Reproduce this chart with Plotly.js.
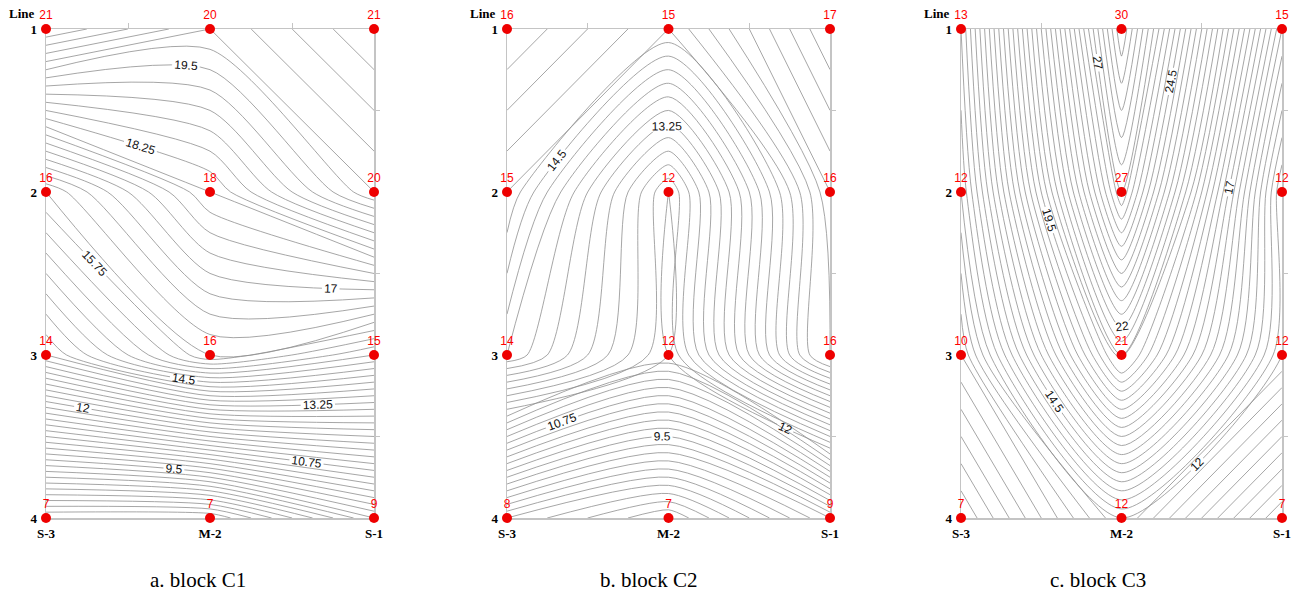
<!DOCTYPE html>
<html>
<head>
<meta charset="utf-8">
<script src="https://cdn.plot.ly/plotly-3.0.1.min.js"></script>
<style>html,body{margin:0;padding:0;background:#fff;}#chart{width:1293px;height:597px;}</style>
</head>
<body>
<div id="chart"></div>
<script>
// ---- data ----
const stations = ['S-3', 'M-2', 'S-1'];
const stationPos = [0, 1, 2];
const lineNums = [1, 2, 3, 4];
const lineLabels = ['1', '2', '3', '4'];
const blockC1 = [[21, 20, 21], [16, 18, 20], [14, 16, 15], [7, 7, 9]];
const blockC2 = [[16, 15, 17], [15, 12, 16], [14, 12, 16], [8, 7, 9]];
const blockC3 = [[13, 30, 15], [12, 27, 12], [10, 21, 12], [7, 12, 7]];
const captions = ['a. block C1', 'b. block C2', 'c. block C3'];

// contour level settings (style): [low, high, step, labelStart, labelEnd]
const levelCfg = [
  [7.25, 20.75, 0.25, 9.5, 19.5],
  [7.25, 16.75, 0.25, 9.5, 14.5],
  [7.5, 29.5, 0.5, 12, 27]
];
const EPS = 0.001; // tiny level offset so no level sits exactly on a sample value

const W = 1293, H = 597;
const xDom = [[46, 374], [507, 830], [961, 1282]];
const yTop = 29, yBot = 518;
const capX = [198, 648, 1098];
const capY = 580;

const blocks = [blockC1, blockC2, blockC3];
const traces = [];
const layout = {
  width: W, height: H, margin: {l: 0, r: 0, t: 0, b: 0},
  paper_bgcolor: '#fff', plot_bgcolor: 'rgba(0,0,0,0)',
  showlegend: false, annotations: [],
  font: {family: 'Liberation Sans, Arial, sans-serif'}
};

const lineStyle = {color: '#8f8f8f', width: 0.8, smoothing: 0.7};
const frameColor = '#c4c4c4';

blocks.forEach((z, i) => {
  const n = i + 1;
  const xa = n === 1 ? 'x' : 'x' + n;
  const ya = n === 1 ? 'y' : 'y' + n;
  const ox = 'x' + (n + 3), oy = 'y' + (n + 3);
  const [lo, hi, step, ls, le] = levelCfg[i];
  const big = step * 5;
  const base = {type: 'contour', x: stationPos, y: lineNums, z: z,
    xaxis: xa, yaxis: ya, showscale: false, hoverinfo: 'skip',
    line: lineStyle};
  for (let j = 1; j < 5; j++) {
    let s = ls + j * step;
    while (s - big >= lo - 1e-9) s -= big;
    traces.push(Object.assign({}, base, {
      contours: {coloring: 'none', start: s + EPS, end: hi + EPS, size: big, showlabels: false}
    }));
  }
  const extras = [];
  for (let v = ls - big; v >= lo - 1e-9; v -= big) extras.push(v);
  for (let v = le + big; v <= hi + 1e-9; v += big) extras.push(v);
  extras.forEach(v => traces.push(Object.assign({}, base, {
    contours: {coloring: 'none', start: v + EPS, end: v + EPS, size: big, showlabels: false}
  })));
  traces.push(Object.assign({}, base, {
    contours: {coloring: 'none', start: ls + EPS, end: le + EPS, size: big, showlabels: true,
      labelformat: '.2~f',
      labelfont: {family: 'Liberation Sans, Arial, sans-serif', size: 12, color: '#111'}}
  }));
  const px = [], py = [], pt = [];
  lineNums.forEach((ln, r) => stationPos.forEach((sp, c) => {
    px.push(sp); py.push(ln); pt.push(String(z[r][c]));
  }));
  traces.push({type: 'scatter', mode: 'markers+text', x: px, y: py, text: pt,
    xaxis: ox, yaxis: oy, cliponaxis: false, hoverinfo: 'skip',
    textposition: 'top center',
    textfont: {family: 'Liberation Sans, Arial, sans-serif', size: 12, color: '#ff0000'},
    marker: {color: '#ee0000', size: 10, line: {width: 0}}});

  const xd = [xDom[i][0] / W, xDom[i][1] / W];
  const yd = [1 - yBot / H, 1 - yTop / H];
  const k = n === 1 ? '' : n;
  layout['xaxis' + k] = {domain: xd, anchor: ya, range: [0, 2], showgrid: false, zeroline: false,
    showline: true, mirror: true, linecolor: frameColor, linewidth: 1.5, layer: 'below traces',
    tickvals: stationPos, ticktext: stations, ticks: '', ticklabelstandoff: 3,
    tickfont: {family: 'Liberation Serif, Times New Roman, serif', size: 13, color: '#000', weight: 'bold'}};
  layout['yaxis' + k] = {domain: yd, anchor: xa, range: [4, 1], showgrid: false, zeroline: false,
    showline: true, mirror: true, linecolor: frameColor, linewidth: 1.5, layer: 'below traces',
    tickvals: lineNums, ticktext: lineLabels, ticks: '', ticklabelstandoff: 5,
    tickfont: {family: 'Liberation Serif, Times New Roman, serif', size: 13, color: '#000', weight: 'bold'}};
  layout['xaxis' + (n + 3)] = {overlaying: xa, side: 'top', anchor: oy, range: [0, 2],
    showgrid: false, zeroline: false, showline: false, showticklabels: false, layer: 'below traces',
    tickvals: [0.5, 1.5], ticks: 'outside', ticklen: 5, tickcolor: frameColor, tickwidth: 1};
  layout['yaxis' + (n + 3)] = {overlaying: ya, side: 'right', anchor: ox, range: [4, 1],
    showgrid: false, zeroline: false, showline: false, showticklabels: false, layer: 'below traces',
    tickvals: [1.5, 2.5, 3.5], ticks: 'outside', ticklen: 5, tickcolor: frameColor, tickwidth: 1};

  layout.annotations.push({xref: xa + ' domain', yref: ya + ' domain', x: 0, y: 1,
    xanchor: 'right', yanchor: 'bottom', xshift: -9, yshift: 6, showarrow: false, text: 'Line',
    font: {family: 'Liberation Serif, Times New Roman, serif', size: 13, color: '#000', weight: 'bold'}});
  layout.annotations.push({xref: 'paper', yref: 'paper', x: capX[i] / W, y: 1 - capY / H,
    xanchor: 'center', yanchor: 'middle', showarrow: false, text: captions[i],
    font: {family: 'Liberation Serif, Times New Roman, serif', size: 21, color: '#000'}});
});

Plotly.newPlot('chart', traces, layout, {staticPlot: true, displayModeBar: false});
</script>
</body>
</html>
